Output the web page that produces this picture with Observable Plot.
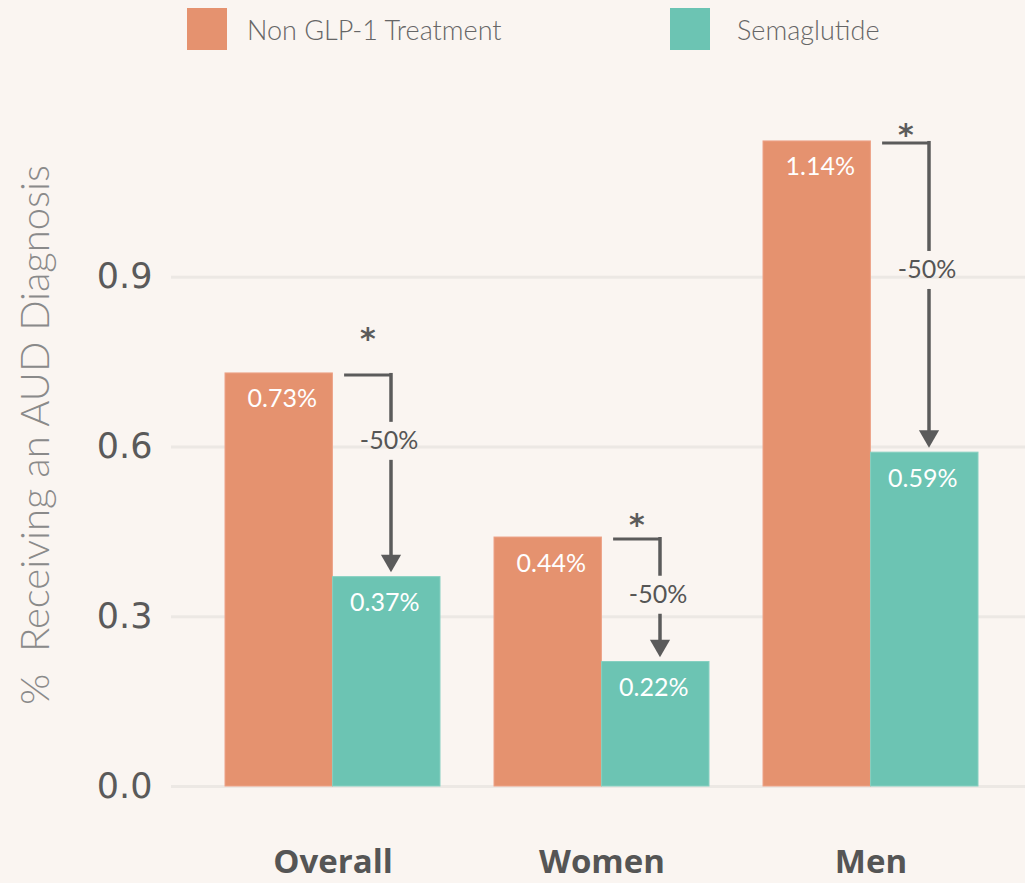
<!DOCTYPE html>
<html>
<head>
<meta charset="utf-8">
<script src="https://cdn.jsdelivr.net/npm/d3@7"></script>
<script src="https://cdn.jsdelivr.net/npm/@observablehq/plot@0.6"></script>
<style>
  html, body { margin: 0; padding: 0; background: #faf5f1; }
  #wrap { position: relative; width: 1025px; height: 883px; overflow: hidden; }
  #legend { position: relative; width: 1025px; height: 60px; }
  .sw { position: absolute; width: 40px; height: 42px; top: 8px; }
  .lt { position: absolute; top: 10px; font-family: Lato, sans-serif; font-weight: 300; font-size: 27px; line-height: 40px; color: #666; white-space: nowrap; }
  svg { display: block; }
  g[aria-label="y-axis tick label"] text { font-family: "DejaVu Sans", sans-serif; }
  g[aria-label="x-axis tick label"] text { font-family: "Open Sans", sans-serif; font-weight: 700; }
</style>
</head>
<body>
<div id="wrap">
  <div id="legend"></div>
  <div id="chart"></div>
</div>
<script>
// ---- data ----
const groups = ["Overall", "Women", "Men"];
const treatments = ["Non GLP-1 Treatment", "Semaglutide"];
const nonGlp1 = [0.73, 0.44, 1.14];
const semaglutide = [0.37, 0.22, 0.59];
const changeLabels = ["-50%", "-50%", "-50%"];
const yTicks = [0, 0.3, 0.6, 0.9];
const yTitle = "%  Receiving an AUD Diagnosis";
const colors = ["#e5926f", "#6cc4b3"];

// ---- layout ----
const W = 1025, H = 823;
const mL = 171, mR = 0, mT = 47, mB = 97;
const xRange = [198, 1005];
const padIn = 0.2, padOut = 0.1;
const step = (xRange[1] - xRange[0]) / (groups.length - padIn + 2 * padOut);
const bw = step * (1 - padIn);
const half = bw / 2;
const arrowDx = 58;                    // vertical arrow offset from band centre
const labelPos = [0.61, 0.338, 0.912]; // y (data units) where "-50%" sits
const starDy = [-34, -12, -6];

const rows = groups.map((g, i) => ({
  group: g, a: nonGlp1[i], b: semaglutide[i],
  change: changeLabels[i], labelY: labelPos[i], starDy: starDy[i]
}));
const tableA = rows.map(r => ({group: r.group, value: r.a, t: treatments[0]}));
const tableB = rows.map(r => ({group: r.group, value: r.b, t: treatments[1]}));
const pct = v => v.toFixed(2) + "%";

// legend
const legend = document.getElementById("legend");
const legendPos = [[187, 247], [670, 737]];
treatments.forEach((t, i) => {
  const s = document.createElement("div");
  s.className = "sw"; s.style.left = legendPos[i][0] + "px"; s.style.background = colors[i];
  const l = document.createElement("div");
  l.className = "lt"; l.style.left = legendPos[i][1] + "px"; l.textContent = t;
  legend.appendChild(s); legend.appendChild(l);
});

const ink = "#5b5b5b";
const chart = Plot.plot({
  width: W, height: H,
  marginLeft: mL, marginRight: mR, marginTop: mT, marginBottom: mB,
  style: { background: "transparent", overflow: "visible" },
  x: { domain: groups, range: xRange, paddingInner: padIn, paddingOuter: padOut, label: null },
  y: { domain: [0, 1.2], label: null },
  marks: [
    Plot.ruleY(yTicks, { stroke: "#ece8e4", strokeWidth: 3 }),
    Plot.axisY({ ticks: yTicks, tickSize: 0, tickPadding: 19, tickFormat: d3.format(".1f"), fontSize: 35, fill: "#5a5a5a", label: null }),
    Plot.axisX({ tickSize: 0, tickPadding: 63, fontSize: 33, fill: "#555", label: null }),
    Plot.text([yTitle], { frameAnchor: "left", textAnchor: "middle", rotate: -90, dx: -135, dy: -12, fontSize: 40, fontWeight: 300, fontFamily: "Lato, sans-serif", fill: "#8a8a8a" }),
    Plot.barY(tableA, { x: "group", y: "value", fill: colors[0], insetRight: half, stroke: "#eda287", strokeWidth: 1 }),
    Plot.barY(tableB, { x: "group", y: "value", fill: colors[1], insetLeft: half, stroke: "#86d0c1", strokeWidth: 1 }),
    Plot.text(tableA, { x: "group", y: "value", text: d => pct(d.value), dx: -half / 2 + 3, dy: 26, fill: "white", fontSize: 25, fontFamily: "Lato, sans-serif" }),
    Plot.text(tableB, { x: "group", y: "value", text: d => pct(d.value), dx: half / 2 - 2, dy: 26, fill: "white", fontSize: 25, fontFamily: "Lato, sans-serif" }),
    // bracket horizontal
    Plot.ruleY(rows, { x1: "group", x2: "group", y: "a", dy: 1.5, insetLeft: half + 11.5, insetRight: half - arrowDx - 1.5, stroke: ink, strokeWidth: 3 }),
    // vertical segments
    Plot.ruleX(rows, { x: "group", y1: "a", y2: "labelY", dx: arrowDx, insetBottom: 19, stroke: ink, strokeWidth: 3.5 }),
    Plot.ruleX(rows, { x: "group", y1: "labelY", y2: "b", dx: arrowDx, insetTop: 19, insetBottom: 20, stroke: ink, strokeWidth: 3.5 }),
    // arrow head
    Plot.dot(rows, { x: "group", y: "b", dx: arrowDx, dy: -16.5, symbol: "triangle", r: 7.5, rotate: 180, fill: ink, stroke: null }),
    // change label
    Plot.text(rows, { x: "group", y: "labelY", text: "change", dx: arrowDx - 2, fill: "#555", fontSize: 25, fontFamily: "Lato, sans-serif" }),
    // significance star
    ...rows.map(r => Plot.text([r], { x: "group", y: "a", text: () => "*", dx: (half + 11.5 + half + arrowDx) / 2 - half, dy: r.starDy, fill: ink, fontSize: 30, fontWeight: "bold", fontFamily: "DejaVu Sans, sans-serif" }))
  ]
});
document.getElementById("chart").appendChild(chart);
</script>
</body>
</html>
